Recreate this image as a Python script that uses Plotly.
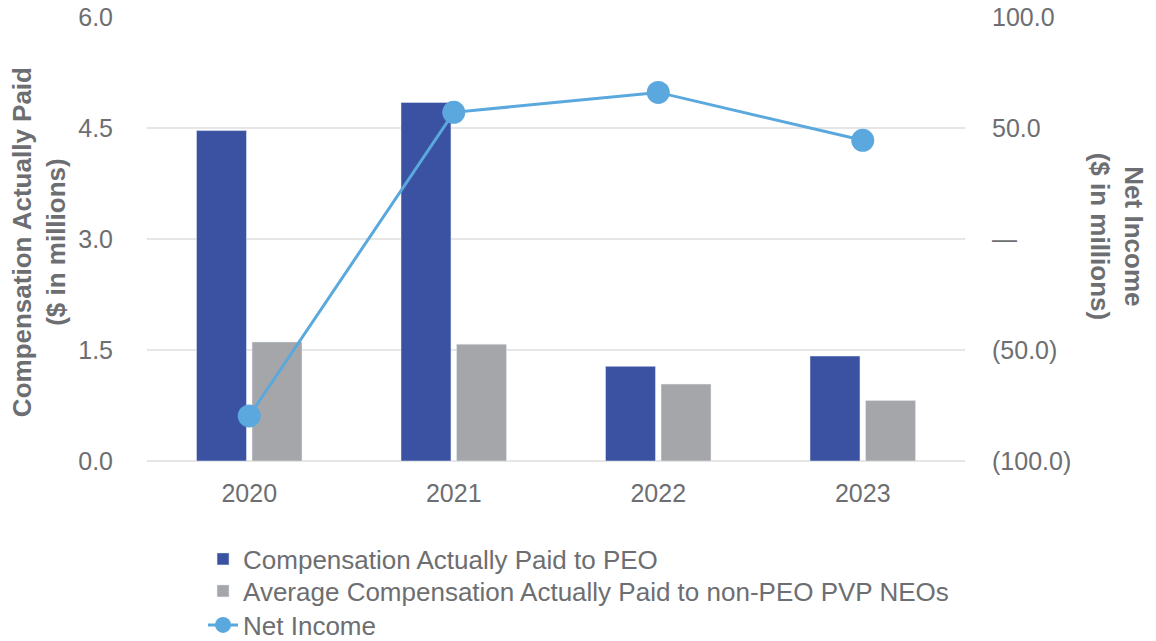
import plotly.graph_objects as go

years = ["2020", "2021", "2022", "2023"]
cap_peo = [4.47, 4.85, 1.28, 1.42]
cap_neo = [1.61, 1.58, 1.04, 0.82]
net_income = [-79.7, 57.2, 66.2, 44.6]

left_ticks = [0, 1.5, 3.0, 4.5, 6.0]
left_ticktext = ["0.0", "1.5", "3.0", "4.5", "6.0"]
right_ticks = [-100, -50, 0, 50, 100]
right_ticktext = ["(100.0)", "(50.0)", "—", "50.0", "100.0"]

TXT = "#6d6e71"
FONT = "Liberation Sans, Arial, sans-serif"

fig = go.Figure()
fig.add_trace(go.Bar(x=years, y=cap_peo, name="Compensation Actually Paid to PEO",
                     marker_color="#3b52a3", yaxis="y", legend="legend"))
fig.add_trace(go.Bar(x=years, y=cap_neo, name="Average Compensation Actually Paid to non-PEO PVP NEOs",
                     marker_color="#a5a6aa", yaxis="y", legend="legend2"))
fig.add_trace(go.Scatter(x=years, y=net_income, name="Net Income", mode="lines+markers",
                         line=dict(color="#5aa8dd", width=3),
                         marker=dict(size=23, color="#5aa8dd"), yaxis="y2", legend="legend3"))

leg_common = dict(xanchor="left", yanchor="middle", itemwidth=30,
                  font=dict(family=FONT, size=26, color=TXT), bgcolor="rgba(0,0,0,0)")

fig.update_layout(
    width=1156, height=641,
    margin=dict(l=147, r=191, t=17, b=180, autoexpand=False),
    paper_bgcolor="white", plot_bgcolor="white",
    font=dict(family=FONT, color=TXT, size=25),
    barmode="group", bargap=0.457, bargroupgap=0.1,
    showlegend=True,
    legend=dict(x=0.0685, y=-0.2207, **leg_common),
    legend2=dict(x=0.0685, y=-0.2928, **leg_common),
    legend3=dict(x=0.0685, y=-0.3694, **leg_common),
    xaxis=dict(type="category", showgrid=False, showline=False, zeroline=False, automargin=False,
               ticks="", ticklabelstandoff=15, tickfont=dict(size=25, color=TXT)),
    yaxis=dict(range=[0, 6.006], tickvals=left_ticks, ticktext=left_ticktext, automargin=False,
               showgrid=True, gridcolor="#e6e6e6", gridwidth=2, zeroline=True,
               zerolinecolor="#e6e6e6", zerolinewidth=2, showline=False, ticks="",
               ticklabeloverflow="allow",
               ticklabelstandoff=33, tickfont=dict(size=25, color=TXT)),
    yaxis2=dict(range=[-100, 100.2], tickvals=right_ticks, ticktext=right_ticktext, automargin=False,
                overlaying="y", side="right", showgrid=False, zeroline=False,
                showline=False, ticks="", ticklabelstandoff=26, ticklabeloverflow="allow",
                tickfont=dict(size=25, color=TXT)),
    annotations=[
        dict(text="<b>Compensation Actually Paid<br>($ in millions)</b>", xref="paper", yref="paper",
             x=-0.132, y=0.493, xanchor="center", yanchor="middle", textangle=-90,
             showarrow=False, font=dict(size=26, color=TXT, family=FONT)),
        dict(text="<b>Net Income<br>($ in millions)</b>", xref="paper", yref="paper",
             x=1.186, y=0.505, xanchor="center", yanchor="middle", textangle=90,
             showarrow=False, font=dict(size=26, color=TXT, family=FONT)),
    ],
)

fig.write_html("out.html", config={"displayModeBar": False},
               post_script="document.body.style.margin='0';document.body.style.overflow='hidden';")
